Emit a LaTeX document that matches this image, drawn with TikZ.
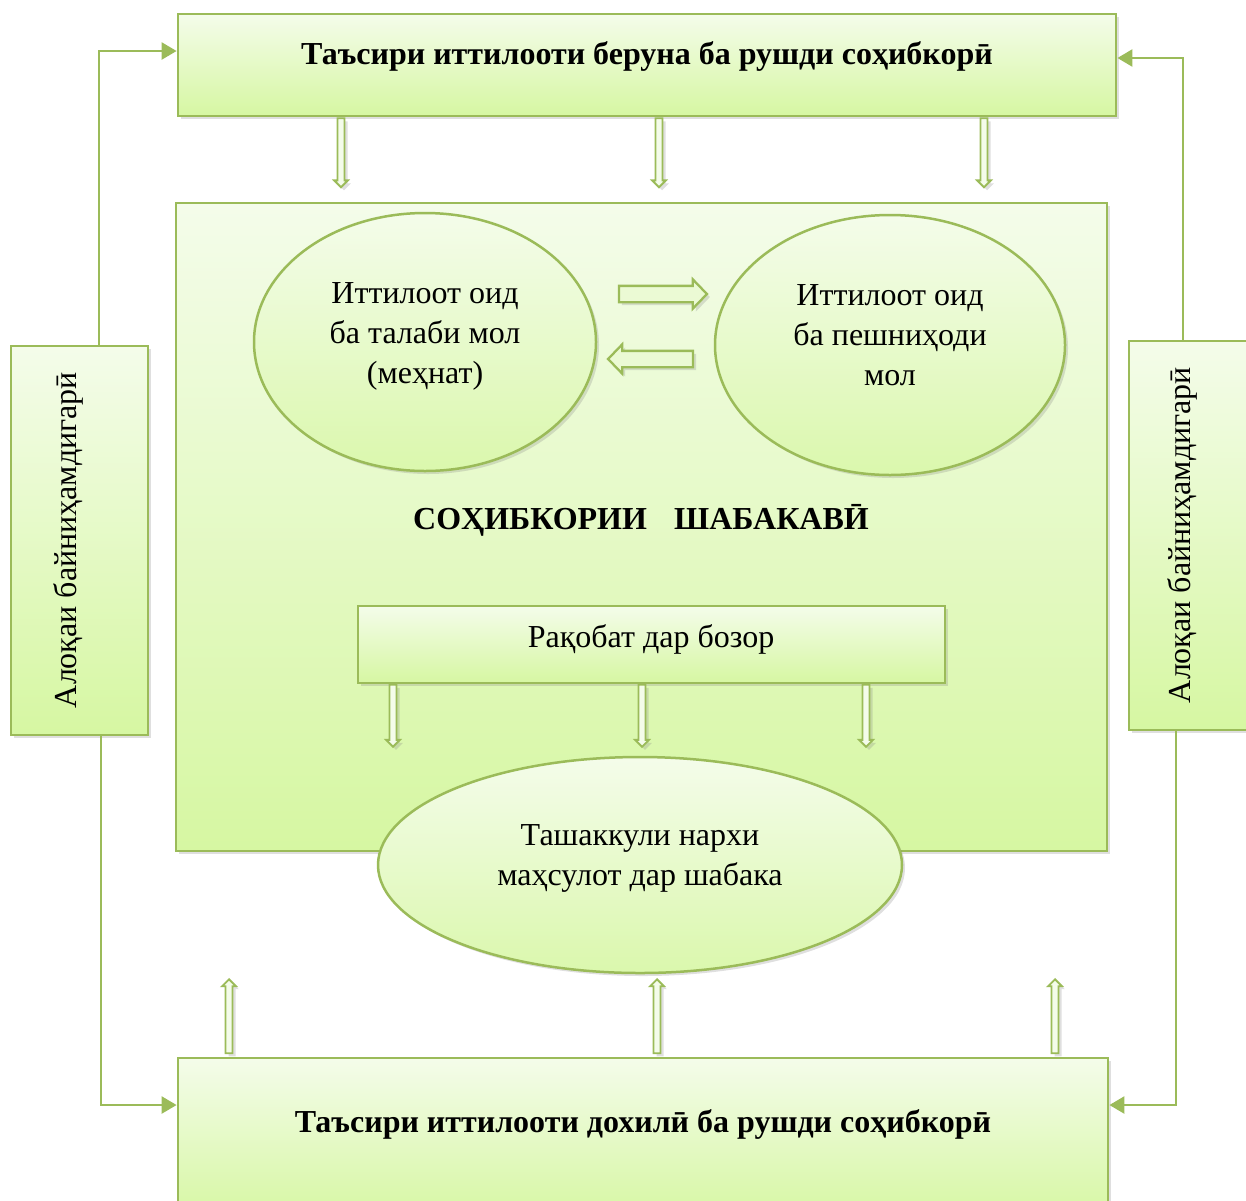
\documentclass[tikz,border=0pt]{standalone}
\usepackage{fontspec}
\setmainfont{Liberation Serif}
\usetikzlibrary{shapes.geometric,shapes.arrows,shadows,arrows.meta,calc}
\definecolor{grn}{RGB}{155,187,89}
\definecolor{ftop}{RGB}{244,252,234}
\definecolor{fbot}{RGB}{214,247,162}
\tikzset{
  shad/.style={drop shadow={opacity=0.25,shadow xshift=3pt,shadow yshift=-3pt}},
  box/.style={rectangle,draw=grn,line width=2.8pt,top color=ftop,bottom color=fbot,inner sep=0pt,shad},
  oval/.style={ellipse,draw=grn,line width=2.5pt,top color=ftop,bottom color=fbot!85!ftop,inner sep=0pt,shad},
  thinarr/.style={single arrow,draw=grn,fill=ftop,line width=1.8pt,inner sep=2.6pt,
    single arrow head extend=3.4pt,single arrow tip angle=90,shad},
  blockarr/.style={single arrow,draw=grn,fill=ftop!70!fbot,line width=2.3pt,inner sep=7pt,
    single arrow head extend=6.5pt,single arrow tip angle=92,shad},
  conn/.style={draw=grn,line width=2.5pt,-{Triangle[length=15pt,width=17pt]}},
  txt/.style={font=\fontsize{32}{40}\selectfont,align=center,inner sep=0pt},
  btxt/.style={font=\fontsize{32}{40}\selectfont\bfseries,align=center,inner sep=0pt}
}
\begin{document}
\begin{tikzpicture}[x=1pt,y=-1pt]
\useasboundingbox (0,0) rectangle (1246,1200);
\clip (0,0) rectangle (1246,1200);
% boxes
\node[box,minimum width=931pt,minimum height=648pt] (main) at (641.5,527) {};
\node[box,minimum width=938pt,minimum height=102pt] (top) at (647,65) {};
\node[box,minimum width=930pt,minimum height=162pt] (bot) at (643,1139) {};
\node[box,minimum width=137pt,minimum height=389pt] (lside) at (79.5,540.5) {};
\node[box,minimum width=133pt,minimum height=389pt] (rside) at (1195.5,535.5) {};
\node[box,minimum width=587pt,minimum height=77pt] (rak) at (651.5,644.5) {};
% ellipses
\node[oval,minimum width=342pt,minimum height=258pt] (lell) at (425,342) {};
\node[oval,minimum width=350pt,minimum height=260pt] (rell) at (890,345) {};
\node[oval,minimum width=524pt,minimum height=216pt] (bell) at (640,865) {};
% texts
\node[btxt] (toptxt) at (647,56) {Таъсири иттилооти беруна ба рушди соҳибкорӣ};
\node[btxt] (bottxt) at (643,1124) {Таъсири иттилооти дохилӣ ба рушди соҳибкорӣ};
\node[btxt] (maintxt) at (641,520) {СОҲИБКОРИИ\hspace{0.6em} ШАБАКАВӢ};
\node[txt] (raktxt) at (651,639) {Рақобат дар бозор};
\node[txt] (lelltxt) at (425,336) {Иттилоот оид\\ба талаби мол\\(меҳнат)};
\node[txt] (relltxt) at (890,335) {Иттилоот оид\\ба пешниҳоди\\мол};
\node[txt] (belltxt) at (640,858) {Ташаккули нархи\\маҳсулот дар шабака};
\node[txt,rotate=90] (ltxt) at (68,540) {Алоқаи байниҳамдигарӣ};
\node[txt,rotate=90] (rtxt) at (1182,535) {Алоқаи байниҳамдигарӣ};
% thin arrows from top box
\node[thinarr,minimum height=69pt,rotate=-90] (ta1) at (341,151) {};
\node[thinarr,minimum height=69pt,rotate=-90] (ta2) at (659,151) {};
\node[thinarr,minimum height=69pt,rotate=-90] (ta3) at (984,151) {};
% thin arrows from Rakobat
\node[thinarr,minimum height=62pt,rotate=-90] (ra1) at (393,714) {};
\node[thinarr,minimum height=62pt,rotate=-90] (ra2) at (642,714) {};
\node[thinarr,minimum height=62pt,rotate=-90] (ra3) at (866,714) {};
% thin arrows up from bottom box
\node[thinarr,minimum height=74pt,rotate=90] (ua1) at (229,1018) {};
\node[thinarr,minimum height=74pt,rotate=90] (ua2) at (657,1018) {};
\node[thinarr,minimum height=74pt,rotate=90] (ua3) at (1055,1018) {};
% block arrows between ellipses
\node[blockarr,minimum height=88pt] (bar) at (659,294) {};
\node[blockarr,minimum height=85pt,rotate=180] (bal) at (654.5,359) {};
% feedback connectors
\draw[conn] (99,0 |- lside.north) |- ([yshift=14pt]top.west);
\draw[conn] (101,0 |- lside.south) |- ([yshift=34pt]bot.west);
\draw[conn] (1183,0 |- rside.north) |- ([yshift=7pt]top.east);
\draw[conn] (1176,0 |- rside.south) |- ([yshift=34pt]bot.east);
\end{tikzpicture}
\end{document}
